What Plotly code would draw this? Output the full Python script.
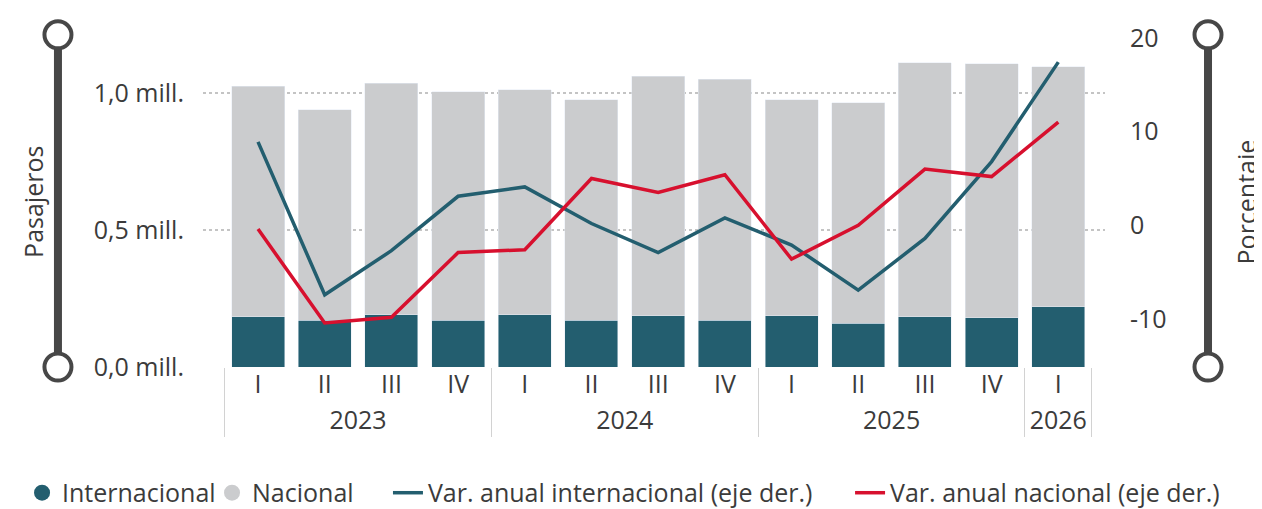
import plotly.graph_objects as go

# trimestres
years = ["2023"] * 4 + ["2024"] * 4 + ["2025"] * 4 + ["2026"]
quarters = ["I", "II", "III", "IV"] * 3 + ["I"]

# pasajeros (millones)
internacional = [0.184, 0.170, 0.191, 0.170, 0.191, 0.170, 0.187, 0.170, 0.187, 0.159, 0.184, 0.180, 0.220]
nacional = [0.841, 0.769, 0.845, 0.834, 0.820, 0.805, 0.874, 0.880, 0.788, 0.805, 0.926, 0.927, 0.876]

# variacion anual (%)
var_int = [8.9, -7.4, -2.7, 3.1, 4.1, 0.2, -2.9, 0.8, -2.1, -6.9, -1.4, 6.8, 17.4]
var_nac = [-0.4, -10.4, -9.8, -2.9, -2.6, 5.0, 3.5, 5.4, -3.6, 0.0, 6.0, 5.2, 11.0]

left_vals = [0, 0.5, 1.0]
left_text = ["0,0 mill.", "0,5 mill.", "1,0 mill."]
right_vals = [-10, 0, 10, 20]
right_text = ["-10", "0", "10", "20"]

TEAL = "#235E6F"
GRAY = "#CBCCCE"
RED = "#D7102E"
DARK = "#474747"
TXT = "#3b3b3b"
FONT = "Open Sans"
FS = 25

x = [years, quarters]

fig = go.Figure()

# legend entries with round markers (bars themselves stay out of the legend)
fig.add_trace(go.Scatter(x=[None], y=[None], mode="markers", name="Internacional", legend="legend",
                         marker=dict(color=TEAL, size=18, symbol="circle")))
fig.add_trace(go.Scatter(x=[None], y=[None], mode="markers", name="Nacional", legend="legend2",
                         marker=dict(color=GRAY, size=18, symbol="circle")))

fig.add_trace(go.Bar(x=x, y=internacional, marker_color=TEAL, showlegend=False, name="Internacional"))
fig.add_trace(go.Bar(x=x, y=nacional, marker_color=GRAY, showlegend=False, name="Nacional"))

fig.add_trace(go.Scatter(x=x, y=var_int, mode="lines", yaxis="y2", legend="legend3",
                         name="Var. anual internacional (eje der.)",
                         line=dict(color=TEAL, width=3.5)))
fig.add_trace(go.Scatter(x=x, y=var_nac, mode="lines", yaxis="y2", legend="legend4",
                         name="Var. anual nacional (eje der.)",
                         line=dict(color=RED, width=3.5)))

# decorative axis bars (left / right)
shapes = []
for px in (-0.1608, 1.1142):
    shapes.append(dict(type="line", xref="paper", yref="paper", x0=px, x1=px, y0=0, y1=0.98,
                       line=dict(color=DARK, width=8)))
    for py in (0, 0.98):
        shapes.append(dict(type="circle", xref="paper", yref="paper",
                           xsizemode="pixel", ysizemode="pixel", xanchor=px, yanchor=py,
                           x0=-13.5, x1=13.5, y0=-13.5, y1=13.5,
                           fillcolor="white", line=dict(color=DARK, width=4)))


def leg(xpos):
    return dict(orientation="h", xref="container", yref="container", x=xpos, y=0.032,
                xanchor="left", yanchor="middle", itemwidth=30,
                bgcolor="rgba(0,0,0,0)", font=dict(size=FS, color=TXT))


fig.update_layout(
    width=1254, height=501,
    margin=dict(l=195, r=157, t=12, b=142),
    paper_bgcolor="white", plot_bgcolor="white",
    font=dict(family=FONT, size=FS, color=TXT),
    barmode="stack", bargap=0.205,
    shapes=shapes,
    annotations=[
        dict(text="Pasajeros", xref="paper", yref="paper", x=-0.1885, y=0.487,
             xanchor="center", yanchor="middle",
             textangle=-90, showarrow=False, font=dict(size=FS, color=TXT)),
        dict(text="Porcentaje", xref="paper", yref="paper", x=1.1558, y=0.487,
             xanchor="center", yanchor="middle",
             textangle=-90, showarrow=False, font=dict(size=FS, color=TXT)),
    ],
    xaxis=dict(type="multicategory", range=[-0.825, 12.70], showgrid=False, zeroline=False,
               tickfont=dict(size=FS, color=TXT), showdividers=True,
               dividercolor="#d2d2d2", dividerwidth=1),
    yaxis=dict(range=[0, 1.237], tickvals=left_vals, ticktext=left_text,
               showgrid=True, gridcolor="#c4c4c4", griddash="dot", gridwidth=1.5,
               zeroline=False, ticklabelstandoff=18, tickfont=dict(size=FS, color=TXT)),
    yaxis2=dict(overlaying="y", side="right", range=[-15.1, 21.04],
                tickvals=right_vals, ticktext=right_text, showgrid=False, zeroline=False,
                ticklabelstandoff=24, tickfont=dict(size=FS, color=TXT)),
    legend=leg(0.0112),
    legend2=leg(0.1627),
    legend3=leg(0.303),
    legend4=leg(0.6715),
)

fig.write_html("out.html")
